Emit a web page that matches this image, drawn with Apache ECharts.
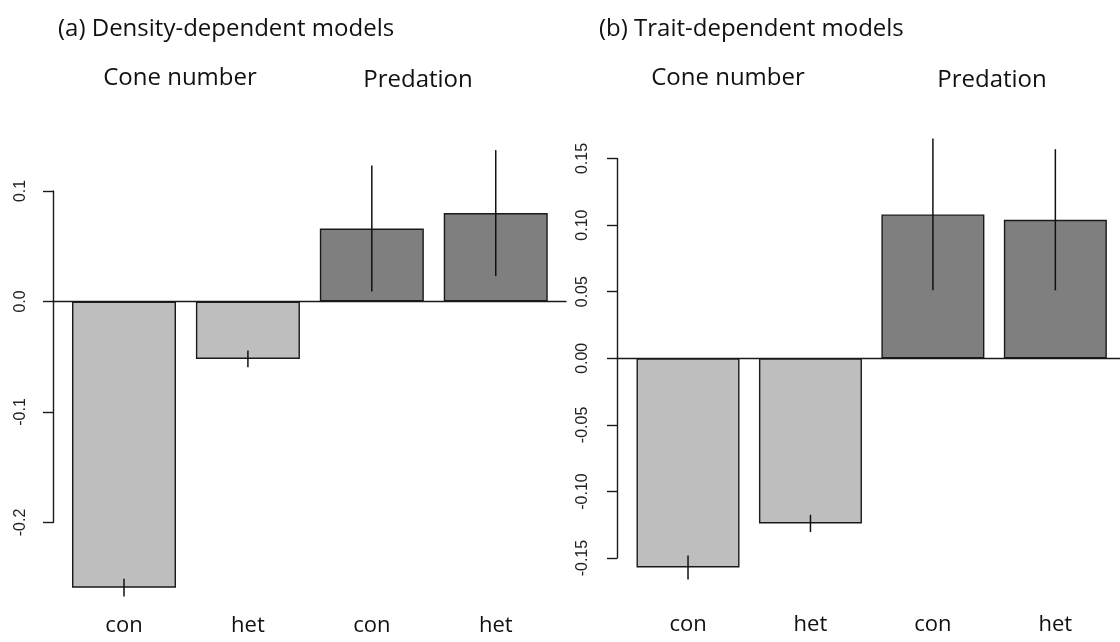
<!DOCTYPE html>
<html>
<head>
<meta charset="utf-8">
<script src="https://cdn.jsdelivr.net/npm/echarts@6/dist/echarts.min.js"></script>
<style>
  html, body { margin: 0; padding: 0; background: #fff; }
  #chart { width: 1120px; height: 642px; }
</style>
</head>
<body>
<div id="chart"></div>
<script>
// ---- data ----
const categories = ['con', 'het', 'con', 'het'];
const groupOf = [0, 0, 1, 1];                    // 0 = Cone number, 1 = Predation
const groupLabels = ['Cone number', 'Predation'];
const panelTitles = ['(a) Density-dependent models', '(b) Trait-dependent models'];

const densityValues = [-0.259, -0.052, 0.066, 0.080];
const densityErrors = [0.008, 0.0076, 0.057, 0.057];
const traitValues = [-0.157, -0.124, 0.108, 0.104];
const traitErrors = [0.009, 0.0065, 0.057, 0.053];

const densityTicks = [-0.2, -0.1, 0.0, 0.1];
const traitTicks = [-0.15, -0.10, -0.05, 0.00, 0.05, 0.10, 0.15];

// ---- styles ----
const groupColors = ['#bebebe', '#7f7f7f'];
const titleFont = "'Open Sans', 'Noto Sans', sans-serif";
const tickFont = "'Liberation Sans', Arial, sans-serif";

function barSeries(values, idx, width) {
  return {
    type: 'bar',
    xAxisIndex: idx * 2,
    yAxisIndex: idx,
    barWidth: width,
    clip: false,
    silent: true,
    data: values.map((v, i) => ({
      value: [i + 1, v],
      itemStyle: { color: groupColors[groupOf[i]], borderColor: '#1a1a1a', borderWidth: 1.4 }
    })),
    z: 2
  };
}

function errorSeries(values, errors, idx) {
  return {
    type: 'custom',
    xAxisIndex: idx * 2,
    yAxisIndex: idx,
    clip: false,
    silent: true,
    data: values.map((v, i) => [i + 1, v - errors[i], v + errors[i]]),
    renderItem: function (params, api) {
      const lo = api.coord([api.value(0), api.value(1)]);
      const hi = api.coord([api.value(0), api.value(2)]);
      return {
        type: 'line',
        shape: { x1: lo[0], y1: lo[1], x2: hi[0], y2: hi[1] },
        style: { stroke: '#111', lineWidth: 1.5 }
      };
    },
    z: 5
  };
}

function yAxisFor(idx, ticks, digits, margin) {
  const step = +(ticks[1] - ticks[0]).toFixed(4);
  return {
    type: 'value',
    gridIndex: idx,
    min: ticks[0],
    max: ticks[ticks.length - 1],
    interval: step,
    axisLine: { show: true, onZero: false, lineStyle: { color: '#1a1a1a', width: 1.4 } },
    axisTick: { show: true, length: 10, lineStyle: { color: '#1a1a1a', width: 1.4 } },
    splitLine: { show: false },
    axisLabel: {
      rotate: 90,
      margin: margin,
      fontSize: 16,
      fontFamily: tickFont,
      color: '#222',
      formatter: v => (+v).toFixed(digits)
    }
  };
}

function xAxesFor(idx, min, max, labelOffset) {
  return [
    { // zero line
      type: 'value', gridIndex: idx, min: min, max: max,
      axisLine: { show: true, onZero: true, lineStyle: { color: '#1a1a1a', width: 1.3 } },
      axisTick: { show: false }, axisLabel: { show: false }, splitLine: { show: false }
    },
    { // category labels at the bottom
      type: 'value', gridIndex: idx, min: min, max: max, position: 'bottom',
      offset: labelOffset,
      axisLine: { show: false, onZero: false }, axisTick: { show: false }, splitLine: { show: false },
      axisLabel: {
        customValues: categories.map((c, i) => i + 1),
        formatter: v => categories[Math.round(v) - 1] || '',
        fontSize: 22, fontFamily: titleFont, color: '#111', margin: 6
      }
    }
  ];
}

const grids = [
  { left: 53, top: 191, width: 513, height: 331.5 },
  { left: 617, top: 158.5, width: 503, height: 399.6 }
];

function label(text, x, y, align) {
  return {
    type: 'text', x: x, y: y,
    style: { text: text, font: "24px " + titleFont, fill: '#111', textAlign: align, textVerticalAlign: 'middle' }
  };
}

const option = {
  animation: false,
  backgroundColor: '#fff',
  grid: grids,
  xAxis: [].concat(
    xAxesFor(0, 0.427, 4.567, 86),
    xAxesFor(1, 0.42, 4.528, 50)
  ),
  yAxis: [yAxisFor(0, densityTicks, 1, 24), yAxisFor(1, traitTicks, 2, 26)],
  series: [
    barSeries(densityValues, 0, 104),
    errorSeries(densityValues, densityErrors, 0),
    barSeries(traitValues, 1, 103),
    errorSeries(traitValues, traitErrors, 1)
  ],
  graphic: [
    label(panelTitles[0], 58, 29, 'left'),
    label(panelTitles[1], 599, 29, 'left'),
    label(groupLabels[0], 180, 78, 'center'),
    label(groupLabels[1], 418, 80, 'center'),
    label(groupLabels[0], 728, 78, 'center'),
    label(groupLabels[1], 992, 80, 'center')
  ]
};

const chart = echarts.init(document.getElementById('chart'), null, { renderer: 'canvas' });
chart.setOption(option);
</script>
</body>
</html>
